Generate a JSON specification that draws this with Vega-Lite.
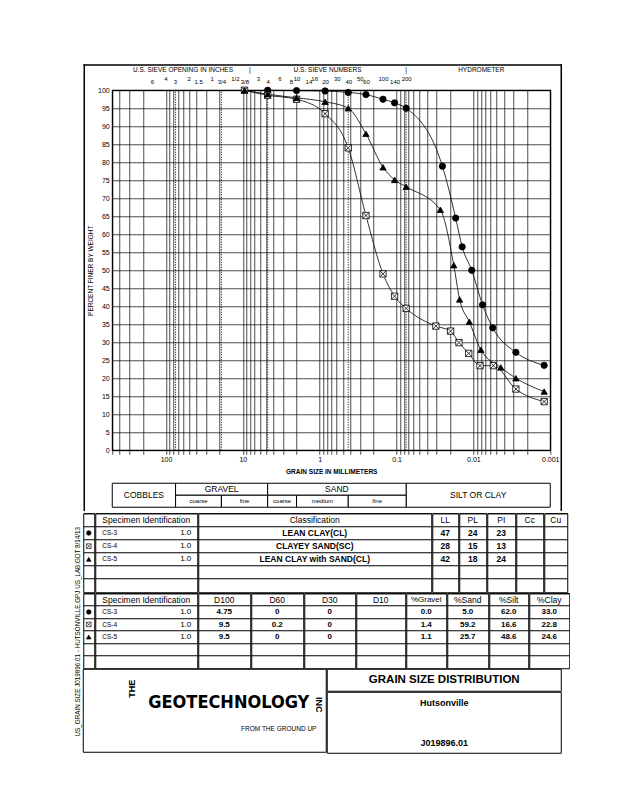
{
"$schema": "https://vega.github.io/schema/vega-lite/v6.json",
"padding": {"left": 73.25, "top": 63.25, "right": 0, "bottom": 0},
"background": "white",
"config": {
  "font": "Liberation Sans",
  "view": {"stroke": "black", "strokeWidth": 1},
  "axisBand": {"grid": true, "gridColor": "black", "gridOpacity": 1, "gridWidth": 1, "labels": false, "ticks": false, "domain": false, "bandPosition": 0}
},
"datasets": {
  "pts": [
    {"sp":"CS-3","d":4.75,"pct":100},{"sp":"CS-3","d":2.0,"pct":99.9},{"sp":"CS-3","d":0.85,"pct":99.8},{"sp":"CS-3","d":0.425,"pct":99.4},{"sp":"CS-3","d":0.25,"pct":98.8},{"sp":"CS-3","d":0.15,"pct":97.5},{"sp":"CS-3","d":0.106,"pct":96.5},{"sp":"CS-3","d":0.075,"pct":95.0},{"sp":"CS-3","d":0.0253,"pct":78.9},{"sp":"CS-3","d":0.017,"pct":64.5},{"sp":"CS-3","d":0.014,"pct":56.5},{"sp":"CS-3","d":0.0105,"pct":50.0},{"sp":"CS-3","d":0.0076,"pct":40.4},{"sp":"CS-3","d":0.0056,"pct":34.0},{"sp":"CS-3","d":0.0028,"pct":27.2},{"sp":"CS-3","d":0.0012,"pct":23.6},
    {"sp":"CS-4","d":9.5,"pct":100},{"sp":"CS-4","d":4.75,"pct":98.6},{"sp":"CS-4","d":2.0,"pct":97.5},{"sp":"CS-4","d":0.85,"pct":93.5},{"sp":"CS-4","d":0.425,"pct":84.0},{"sp":"CS-4","d":0.25,"pct":65.2},{"sp":"CS-4","d":0.15,"pct":49.0},{"sp":"CS-4","d":0.106,"pct":42.8},{"sp":"CS-4","d":0.075,"pct":39.4},{"sp":"CS-4","d":0.0308,"pct":34.5},{"sp":"CS-4","d":0.0198,"pct":33.1},{"sp":"CS-4","d":0.0154,"pct":29.9},{"sp":"CS-4","d":0.0115,"pct":26.9},{"sp":"CS-4","d":0.0082,"pct":23.5},{"sp":"CS-4","d":0.0055,"pct":23.5},{"sp":"CS-4","d":0.0028,"pct":17.0},{"sp":"CS-4","d":0.0012,"pct":13.5},
    {"sp":"CS-5","d":9.5,"pct":100},{"sp":"CS-5","d":4.75,"pct":98.9},{"sp":"CS-5","d":2.0,"pct":97.9},{"sp":"CS-5","d":0.85,"pct":96.8},{"sp":"CS-5","d":0.425,"pct":95.0},{"sp":"CS-5","d":0.25,"pct":87.9},{"sp":"CS-5","d":0.15,"pct":78.6},{"sp":"CS-5","d":0.106,"pct":75.1},{"sp":"CS-5","d":0.075,"pct":73.2},{"sp":"CS-5","d":0.0269,"pct":66.8},{"sp":"CS-5","d":0.018,"pct":51.4},{"sp":"CS-5","d":0.0151,"pct":41.9},{"sp":"CS-5","d":0.0113,"pct":35.7},{"sp":"CS-5","d":0.008,"pct":27.9},{"sp":"CS-5","d":0.0044,"pct":23.0},{"sp":"CS-5","d":0.0028,"pct":20.0},{"sp":"CS-5","d":0.0012,"pct":16.3}
  ],
  "spec": [
    {"sp":"CS-3","depth":1.0,"cls":"LEAN CLAY(CL)","LL":47,"PL":24,"PI":23,"D100":4.75,"D60":0,"D30":0,"gravel":0.0,"sand":5.0,"silt":62.0,"clay":33.0},
    {"sp":"CS-4","depth":1.0,"cls":"CLAYEY SAND(SC)","LL":28,"PL":15,"PI":13,"D100":9.5,"D60":0.2,"D30":0,"gravel":1.4,"sand":59.2,"silt":16.6,"clay":22.8},
    {"sp":"CS-5","depth":1.0,"cls":"LEAN CLAY with SAND(CL)","LL":42,"PL":18,"PI":24,"D100":9.5,"D60":0,"D30":0,"gravel":1.1,"sand":25.7,"silt":48.6,"clay":24.6}
  ],
  "sieveBounds": [{"mm":75},{"mm":19},{"mm":4.75},{"mm":0.425},{"mm":0.075}],
  "headers": [{"mm":60,"label":"U.S. SIEVE OPENING IN INCHES"},{"mm":8.1,"label":"|"},{"mm":0.79,"label":"U.S. SIEVE NUMBERS"},{"mm":0.075,"label":"|"},{"mm":0.0079,"label":"HYDROMETER"}],
  "classes": [
    {"label":"COBBLES","from":500,"to":75,"tier":"whole"},
    {"label":"GRAVEL","from":75,"to":4.75,"tier":"main"},
    {"label":"SAND","from":4.75,"to":0.075,"tier":"main"},
    {"label":"SILT OR CLAY","from":0.075,"to":0.001,"tier":"whole"},
    {"label":"coarse","from":75,"to":19,"tier":"sub"},
    {"label":"fine","from":19,"to":4.75,"tier":"sub"},
    {"label":"coarse","from":4.75,"to":2.0,"tier":"sub"},
    {"label":"medium","from":2.0,"to":0.425,"tier":"sub"},
    {"label":"fine","from":0.425,"to":0.075,"tier":"sub"}
  ]
},
"spacing": 0,
"vconcat": [
 {"spacing": 0, "hconcat": [
  {"width": 9, "height": 10, "data": {"values": [{}]}, "mark": {"type": "text", "text": ""}, "encoding": {}, "view": {"stroke": null}},
  {"width": 438, "height": 360,
   "data": {"name": "pts"},
   "view": {"stroke": "black", "strokeWidth": 1.3},
   "resolve": {"axis": {"x": "independent", "y": "independent"}},
   "layer": [
    {"data": {"values": [{}]}, "mark": {"type": "rule", "stroke": "black", "strokeWidth": 1.5, "strokeCap": "square", "clip": false},
     "encoding": {"x": {"datum": 1157, "type": "quantitative", "scale": {"type": "log", "domain": [0.001, 500], "reverse": true, "nice": false}, "axis": null},
                  "y": {"datum": 107, "type": "quantitative", "scale": {"domain": [0, 100], "nice": false, "zero": false}, "axis": null},
                  "y2": {"datum": -16.7}}},
    {"data": {"values": [{}]}, "mark": {"type": "rule", "stroke": "black", "strokeWidth": 1.5, "strokeCap": "square", "clip": false},
     "encoding": {"x": {"datum": 1157, "type": "quantitative", "axis": null}, "x2": {"datum": 0.000719},
                  "y": {"datum": 107, "type": "quantitative", "axis": null}}},
    {"data": {"values": [{}]}, "mark": {"type": "rule", "stroke": "black", "strokeWidth": 1.5, "strokeCap": "square", "clip": false},
     "encoding": {"x": {"datum": 0.000719, "type": "quantitative", "axis": null},
                  "y": {"datum": 107, "type": "quantitative", "axis": null}, "y2": {"datum": -16.7}}},
    {"data": {"name": "sieveBounds"}, "mark": {"type": "rule", "stroke": "black", "strokeWidth": 1, "strokeDash": [1, 1.5]},
     "encoding": {"x": {"field": "mm", "type": "quantitative",
                        "axis": {"orient": "top", "values": [152.4,76.2,38.1,19.05,9.525,4.75,2.36,1.4,0.85,0.425,0.25,0.106],
                                 "labelExpr": "['6','3','1.5','3/4','3/8','4','8','14','20','40','60','140'][indexof([152.4,76.2,38.1,19.05,9.525,4.75,2.36,1.4,0.85,0.425,0.25,0.106], datum.value)]",
                                 "grid": false, "ticks": false, "domain": false, "labelFontSize": 6, "labelPadding": 6, "labelOverlap": false, "labelFlush": false, "labelBound": false, "labelColor": "black", "title": null}},
                  "y": {"datum": 0, "type": "quantitative", "axis": null}, "y2": {"datum": 100}}},
    {"mark": {"type": "line", "interpolate": "monotone", "stroke": "black", "strokeWidth": 0.8},
     "encoding": {"x": {"field": "d", "type": "quantitative",
                        "axis": {"orient": "top", "values": [101.6,50.8,25.4,12.7,6.35,3.35,2,1.18,0.6,0.3,0.15,0.075],
                                 "labelExpr": "['4','2','1','1/2','3','6','10','16','30','50','100','200'][indexof([101.6,50.8,25.4,12.7,6.35,3.35,2,1.18,0.6,0.3,0.15,0.075], datum.value)]",
                                 "grid": false, "ticks": false, "domain": false, "labelFontSize": 6, "labelPadding": 9, "labelOverlap": false, "labelFlush": false, "labelBound": false, "labelColor": "black", "title": null}},
                  "y": {"field": "pct", "type": "quantitative", "axis": null},
                  "detail": {"field": "sp"}}},
    {"mark": {"type": "point", "filled": true, "opacity": 1, "stroke": "black", "strokeWidth": 0.8, "size": 40},
     "encoding": {"x": {"field": "d", "type": "quantitative",
                        "axis": {"orient": "bottom", "values": [500,400,300,200,100,90,80,70,60,50,40,30,20,10,9,8,7,6,5,4,3,2,1,0.9,0.8,0.7,0.6,0.5,0.4,0.3,0.2,0.1,0.09,0.08,0.07,0.06,0.05,0.04,0.03,0.02,0.01,0.009,0.008,0.007,0.006,0.005,0.004,0.003,0.002,0.001],
                                 "labelExpr": "datum.value == 100 ? '100' : datum.value == 10 ? '10' : datum.value == 1 ? '1' : datum.value == 0.1 ? '0.1' : datum.value == 0.01 ? '0.01' : datum.value == 0.001 ? '0.001' : ''",
                                 "grid": true, "gridColor": "black", "gridOpacity": 1, "gridWidth": 0.7,
                                 "ticks": true, "tickSize": 4, "tickColor": "black", "tickWidth": 0.7, "domain": false,
                                 "labelFontSize": 7, "labelPadding": 1, "labelOverlap": false, "labelFlush": false, "labelColor": "black",
                                 "title": "GRAIN SIZE IN MILLIMETERS", "titleFontSize": 6.5, "titleFontWeight": "bold", "titlePadding": 6, "titleColor": "black"}},
                  "y": {"field": "pct", "type": "quantitative",
                        "axis": {"values": [0,5,10,15,20,25,30,35,40,45,50,55,60,65,70,75,80,85,90,95,100],
                                 "grid": true, "gridColor": "black", "gridOpacity": 1, "gridWidth": 0.7,
                                 "ticks": false, "domain": false, "labelFontSize": 7, "labelPadding": 3, "labelColor": "black",
                                 "title": "PERCENT FINER BY WEIGHT", "titleFontSize": 6.5, "titleFontWeight": "normal", "titlePadding": 4, "titleColor": "black"}},
                  "shape": {"field": "sp", "type": "nominal", "scale": {"domain": ["CS-3","CS-4","CS-5"], "range": ["circle", "M-1,-1H1V1H-1Z M-1,-1L1,1 M1,-1L-1,1", "triangle-up"]}, "legend": null},
                  "fill": {"field": "sp", "type": "nominal", "scale": {"domain": ["CS-3","CS-4","CS-5"], "range": ["black","white","black"]}, "legend": null}}},
    {"data": {"name": "headers"}, "mark": {"type": "text", "fontSize": 6.5, "clip": false},
     "encoding": {"x": {"field": "mm", "type": "quantitative", "axis": null},
                  "y": {"datum": 105.6, "type": "quantitative", "axis": null},
                  "text": {"field": "label"}}},
    {"data": {"name": "classes"}, "transform": [{"filter": "datum.tier == 'whole'"}],
     "mark": {"type": "rect", "fill": "white", "stroke": "black", "strokeWidth": 1, "clip": false},
     "encoding": {"x": {"field": "from", "type": "quantitative", "axis": null}, "x2": {"field": "to"},
                  "y": {"datum": -9.17, "type": "quantitative", "axis": null}, "y2": {"datum": -15.83}}},
    {"data": {"name": "classes"}, "transform": [{"filter": "datum.tier == 'main'"}],
     "mark": {"type": "rect", "fill": "white", "stroke": "black", "strokeWidth": 1, "clip": false},
     "encoding": {"x": {"field": "from", "type": "quantitative", "axis": null}, "x2": {"field": "to"},
                  "y": {"datum": -9.17, "type": "quantitative", "axis": null}, "y2": {"datum": -12.5}}},
    {"data": {"name": "classes"}, "transform": [{"filter": "datum.tier == 'sub'"}],
     "mark": {"type": "rect", "fill": "white", "stroke": "black", "strokeWidth": 1, "clip": false},
     "encoding": {"x": {"field": "from", "type": "quantitative", "axis": null}, "x2": {"field": "to"},
                  "y": {"datum": -12.5, "type": "quantitative", "axis": null}, "y2": {"datum": -15.83}}},
    {"data": {"name": "classes"}, "transform": [{"filter": "datum.tier == 'whole'"}, {"calculate": "sqrt(datum.from * datum.to)", "as": "mid"}],
     "mark": {"type": "text", "fontSize": 8.5, "clip": false},
     "encoding": {"x": {"field": "mid", "type": "quantitative", "axis": null},
                  "y": {"datum": -12.5, "type": "quantitative", "axis": null}, "text": {"field": "label"}}},
    {"data": {"name": "classes"}, "transform": [{"filter": "datum.tier == 'main'"}, {"calculate": "sqrt(datum.from * datum.to)", "as": "mid"}],
     "mark": {"type": "text", "fontSize": 8.5, "clip": false},
     "encoding": {"x": {"field": "mid", "type": "quantitative", "axis": null},
                  "y": {"datum": -10.85, "type": "quantitative", "axis": null}, "text": {"field": "label"}}},
    {"data": {"name": "classes"}, "transform": [{"filter": "datum.tier == 'sub'"}, {"calculate": "sqrt(datum.from * datum.to)", "as": "mid"}],
     "mark": {"type": "text", "fontSize": 6, "clip": false},
     "encoding": {"x": {"field": "mid", "type": "quantitative", "axis": null},
                  "y": {"datum": -14.2, "type": "quantitative", "axis": null}, "text": {"field": "label"}}}
   ]}
 ]},
 {"spacing": 0, "hconcat": [
  {"width": 9, "height": 237, "data": {"values": [{}]}, "view": {"stroke": null},
   "mark": {"type": "text", "text": "US_GRAIN SIZE  J019896.01 - HUTSONVILLE.GPJ  US_LAB.GDT  8/14/13", "fontSize": 6.3, "angle": 270}, "encoding": {}},
  {"spacing": -1, "vconcat": [
   {"spacing": -1, "hconcat": [
    {"width": 11, "height": 79, "data": {"name": "spec"}, "mark": {"type": "point", "filled": true, "opacity": 1, "stroke": "black", "strokeWidth": 0.6, "size": 22},
     "encoding": {"y": {"field": "sp", "type": "nominal", "scale": {"type": "band", "domain": ["hdr","CS-3","CS-4","CS-5","b1","b2"], "paddingInner": 0, "paddingOuter": 0}, "axis": {"title": null}},
                  "shape": {"field": "sp", "type": "nominal", "scale": {"domain": ["CS-3","CS-4","CS-5"], "range": ["circle", "M-1,-1H1V1H-1Z M-1,-1L1,1 M1,-1L-1,1", "triangle-up"]}, "legend": null},
                  "fill": {"field": "sp", "type": "nominal", "scale": {"domain": ["CS-3","CS-4","CS-5"], "range": ["black","white","black"]}, "legend": null}}},
    {"width": 102, "height": 79, "layer": [
      {"data": {"values": [{}]}, "mark": {"type": "text", "fontSize": 8.5, "text": "Specimen Identification"},
       "encoding": {"y": {"datum": "hdr", "type": "nominal", "scale": {"type": "band", "domain": ["hdr","CS-3","CS-4","CS-5","b1","b2"], "paddingInner": 0, "paddingOuter": 0}, "axis": {"title": null}}}},
      {"data": {"name": "spec"}, "mark": {"type": "text", "fontSize": 6.5, "align": "left", "dx": -44},
       "encoding": {"y": {"field": "sp", "type": "nominal", "axis": {"title": null}}, "text": {"field": "sp"}}},
      {"data": {"name": "spec"}, "mark": {"type": "text", "fontSize": 8, "align": "right", "dx": 45},
       "encoding": {"y": {"field": "sp", "type": "nominal", "axis": {"title": null}}, "text": {"field": "depth", "type": "quantitative", "format": ".1f"}}}
    ]},
    {"width": 233, "height": 79, "layer": [
      {"data": {"values": [{}]}, "mark": {"type": "text", "fontSize": 8.5, "text": "Classification"},
       "encoding": {"y": {"datum": "hdr", "type": "nominal", "scale": {"type": "band", "domain": ["hdr","CS-3","CS-4","CS-5","b1","b2"], "paddingInner": 0, "paddingOuter": 0}, "axis": {"title": null}}}},
      {"data": {"name": "spec"}, "mark": {"type": "text", "fontSize": 8.5, "fontWeight": "bold"},
       "encoding": {"y": {"field": "sp", "type": "nominal", "axis": {"title": null}}, "text": {"field": "cls"}}}
    ]},
    {"width": 26, "height": 79, "layer": [
      {"data": {"values": [{}]}, "mark": {"type": "text", "fontSize": 8.5, "text": "LL"},
       "encoding": {"y": {"datum": "hdr", "type": "nominal", "scale": {"type": "band", "domain": ["hdr","CS-3","CS-4","CS-5","b1","b2"], "paddingInner": 0, "paddingOuter": 0}, "axis": {"title": null}}}},
      {"data": {"name": "spec"}, "mark": {"type": "text", "fontSize": 8.5, "fontWeight": "bold"},
       "encoding": {"y": {"field": "sp", "type": "nominal", "axis": {"title": null}}, "text": {"field": "LL", "type": "quantitative"}}}
    ]},
    {"width": 27, "height": 79, "layer": [
      {"data": {"values": [{}]}, "mark": {"type": "text", "fontSize": 8.5, "text": "PL"},
       "encoding": {"y": {"datum": "hdr", "type": "nominal", "scale": {"type": "band", "domain": ["hdr","CS-3","CS-4","CS-5","b1","b2"], "paddingInner": 0, "paddingOuter": 0}, "axis": {"title": null}}}},
      {"data": {"name": "spec"}, "mark": {"type": "text", "fontSize": 8.5, "fontWeight": "bold"},
       "encoding": {"y": {"field": "sp", "type": "nominal", "axis": {"title": null}}, "text": {"field": "PL", "type": "quantitative"}}}
    ]},
    {"width": 28, "height": 79, "layer": [
      {"data": {"values": [{}]}, "mark": {"type": "text", "fontSize": 8.5, "text": "PI"},
       "encoding": {"y": {"datum": "hdr", "type": "nominal", "scale": {"type": "band", "domain": ["hdr","CS-3","CS-4","CS-5","b1","b2"], "paddingInner": 0, "paddingOuter": 0}, "axis": {"title": null}}}},
      {"data": {"name": "spec"}, "mark": {"type": "text", "fontSize": 8.5, "fontWeight": "bold"},
       "encoding": {"y": {"field": "sp", "type": "nominal", "axis": {"title": null}}, "text": {"field": "PI", "type": "quantitative"}}}
    ]},
    {"width": 27, "height": 79, "data": {"values": [{}]}, "mark": {"type": "text", "fontSize": 8.5, "text": "Cc"},
     "encoding": {"y": {"datum": "hdr", "type": "nominal", "scale": {"type": "band", "domain": ["hdr","CS-3","CS-4","CS-5","b1","b2"], "paddingInner": 0, "paddingOuter": 0}, "axis": {"title": null}}}},
    {"width": 23, "height": 79, "data": {"values": [{}]}, "mark": {"type": "text", "fontSize": 8.5, "text": "Cu"},
     "encoding": {"y": {"datum": "hdr", "type": "nominal", "scale": {"type": "band", "domain": ["hdr","CS-3","CS-4","CS-5","b1","b2"], "paddingInner": 0, "paddingOuter": 0}, "axis": {"title": null}}}}
   ]},
   {"spacing": -1, "hconcat": [
    {"width": 11, "height": 75, "data": {"name": "spec"}, "mark": {"type": "point", "filled": true, "opacity": 1, "stroke": "black", "strokeWidth": 0.6, "size": 22},
     "encoding": {"y": {"field": "sp", "type": "nominal", "scale": {"type": "band", "domain": ["hdr","CS-3","CS-4","CS-5","b1","b2"], "paddingInner": 0, "paddingOuter": 0}, "axis": {"title": null}},
                  "shape": {"field": "sp", "type": "nominal", "scale": {"domain": ["CS-3","CS-4","CS-5"], "range": ["circle", "M-1,-1H1V1H-1Z M-1,-1L1,1 M1,-1L-1,1", "triangle-up"]}, "legend": null},
                  "fill": {"field": "sp", "type": "nominal", "scale": {"domain": ["CS-3","CS-4","CS-5"], "range": ["black","white","black"]}, "legend": null}}},
    {"width": 102, "height": 75, "layer": [
      {"data": {"values": [{}]}, "mark": {"type": "text", "fontSize": 8.5, "text": "Specimen Identification"},
       "encoding": {"y": {"datum": "hdr", "type": "nominal", "scale": {"type": "band", "domain": ["hdr","CS-3","CS-4","CS-5","b1","b2"], "paddingInner": 0, "paddingOuter": 0}, "axis": {"title": null}}}},
      {"data": {"name": "spec"}, "mark": {"type": "text", "fontSize": 6.5, "align": "left", "dx": -44},
       "encoding": {"y": {"field": "sp", "type": "nominal", "axis": {"title": null}}, "text": {"field": "sp"}}},
      {"data": {"name": "spec"}, "mark": {"type": "text", "fontSize": 8, "align": "right", "dx": 45},
       "encoding": {"y": {"field": "sp", "type": "nominal", "axis": {"title": null}}, "text": {"field": "depth", "type": "quantitative", "format": ".1f"}}}
    ]},
    {"width": 52, "height": 75, "layer": [
      {"data": {"values": [{}]}, "mark": {"type": "text", "fontSize": 8.5, "text": "D100"},
       "encoding": {"y": {"datum": "hdr", "type": "nominal", "scale": {"type": "band", "domain": ["hdr","CS-3","CS-4","CS-5","b1","b2"], "paddingInner": 0, "paddingOuter": 0}, "axis": {"title": null}}}},
      {"data": {"name": "spec"}, "mark": {"type": "text", "fontSize": 8, "fontWeight": "bold"},
       "encoding": {"y": {"field": "sp", "type": "nominal", "axis": {"title": null}}, "text": {"field": "D100", "type": "quantitative"}}}
    ]},
    {"width": 52, "height": 75, "layer": [
      {"data": {"values": [{}]}, "mark": {"type": "text", "fontSize": 8.5, "text": "D60"},
       "encoding": {"y": {"datum": "hdr", "type": "nominal", "scale": {"type": "band", "domain": ["hdr","CS-3","CS-4","CS-5","b1","b2"], "paddingInner": 0, "paddingOuter": 0}, "axis": {"title": null}}}},
      {"data": {"name": "spec"}, "mark": {"type": "text", "fontSize": 8, "fontWeight": "bold"},
       "encoding": {"y": {"field": "sp", "type": "nominal", "axis": {"title": null}}, "text": {"field": "D60", "type": "quantitative"}}}
    ]},
    {"width": 51, "height": 75, "layer": [
      {"data": {"values": [{}]}, "mark": {"type": "text", "fontSize": 8.5, "text": "D30"},
       "encoding": {"y": {"datum": "hdr", "type": "nominal", "scale": {"type": "band", "domain": ["hdr","CS-3","CS-4","CS-5","b1","b2"], "paddingInner": 0, "paddingOuter": 0}, "axis": {"title": null}}}},
      {"data": {"name": "spec"}, "mark": {"type": "text", "fontSize": 8, "fontWeight": "bold"},
       "encoding": {"y": {"field": "sp", "type": "nominal", "axis": {"title": null}}, "text": {"field": "D30", "type": "quantitative"}}}
    ]},
    {"width": 49, "height": 75, "data": {"values": [{}]}, "mark": {"type": "text", "fontSize": 8.5, "text": "D10"},
     "encoding": {"y": {"datum": "hdr", "type": "nominal", "scale": {"type": "band", "domain": ["hdr","CS-3","CS-4","CS-5","b1","b2"], "paddingInner": 0, "paddingOuter": 0}, "axis": {"title": null}}}},
    {"width": 40, "height": 75, "layer": [
      {"data": {"values": [{}]}, "mark": {"type": "text", "fontSize": 8, "text": "%Gravel"},
       "encoding": {"y": {"datum": "hdr", "type": "nominal", "scale": {"type": "band", "domain": ["hdr","CS-3","CS-4","CS-5","b1","b2"], "paddingInner": 0, "paddingOuter": 0}, "axis": {"title": null}}}},
      {"data": {"name": "spec"}, "mark": {"type": "text", "fontSize": 8, "fontWeight": "bold"},
       "encoding": {"y": {"field": "sp", "type": "nominal", "axis": {"title": null}}, "text": {"field": "gravel", "type": "quantitative", "format": ".1f"}}}
    ]},
    {"width": 41, "height": 75, "layer": [
      {"data": {"values": [{}]}, "mark": {"type": "text", "fontSize": 8.5, "text": "%Sand"},
       "encoding": {"y": {"datum": "hdr", "type": "nominal", "scale": {"type": "band", "domain": ["hdr","CS-3","CS-4","CS-5","b1","b2"], "paddingInner": 0, "paddingOuter": 0}, "axis": {"title": null}}}},
      {"data": {"name": "spec"}, "mark": {"type": "text", "fontSize": 8, "fontWeight": "bold"},
       "encoding": {"y": {"field": "sp", "type": "nominal", "axis": {"title": null}}, "text": {"field": "sand", "type": "quantitative", "format": ".1f"}}}
    ]},
    {"width": 39, "height": 75, "layer": [
      {"data": {"values": [{}]}, "mark": {"type": "text", "fontSize": 8.5, "text": "%Silt"},
       "encoding": {"y": {"datum": "hdr", "type": "nominal", "scale": {"type": "band", "domain": ["hdr","CS-3","CS-4","CS-5","b1","b2"], "paddingInner": 0, "paddingOuter": 0}, "axis": {"title": null}}}},
      {"data": {"name": "spec"}, "mark": {"type": "text", "fontSize": 8, "fontWeight": "bold"},
       "encoding": {"y": {"field": "sp", "type": "nominal", "axis": {"title": null}}, "text": {"field": "silt", "type": "quantitative", "format": ".1f"}}}
    ]},
    {"width": 40, "height": 75, "layer": [
      {"data": {"values": [{}]}, "mark": {"type": "text", "fontSize": 8.5, "text": "%Clay"},
       "encoding": {"y": {"datum": "hdr", "type": "nominal", "scale": {"type": "band", "domain": ["hdr","CS-3","CS-4","CS-5","b1","b2"], "paddingInner": 0, "paddingOuter": 0}, "axis": {"title": null}}}},
      {"data": {"name": "spec"}, "mark": {"type": "text", "fontSize": 8, "fontWeight": "bold"},
       "encoding": {"y": {"field": "sp", "type": "nominal", "axis": {"title": null}}, "text": {"field": "clay", "type": "quantitative", "format": ".1f"}}}
    ]}
   ]},
   {"spacing": -1, "hconcat": [
    {"width": 243, "height": 83, "data": {"values": [{}]}, "layer": [
      {"mark": {"type": "rect", "fill": "white", "stroke": "black", "strokeWidth": 1}, "encoding": {}},
      {"mark": {"type": "text", "text": "GEOTECHNOLOGY", "font": "Liberation Sans Narrow, DejaVu Sans Condensed, sans-serif", "fontWeight": "bold", "fontSize": 18, "dx": 24, "dy": -8}, "encoding": {}},
      {"mark": {"type": "text", "text": "INC", "fontWeight": "bold", "fontSize": 9, "angle": 90, "dx": -6, "dy": -114}, "encoding": {}},
      {"mark": {"type": "text", "text": "FROM THE GROUND UP", "fontSize": 6.5, "dx": 74, "dy": 18}, "encoding": {}},
      {"mark": {"type": "text", "text": "THE", "fontWeight": "bold", "fontSize": 9, "angle": 270, "dx": 22, "dy": -73}, "encoding": {}}
    ]},
    {"spacing": -1, "vconcat": [
      {"width": 234, "height": 22, "data": {"values": [{}]}, "layer": [
        {"mark": {"type": "rect", "fill": "white", "stroke": "black", "strokeWidth": 1}, "encoding": {}},
        {"mark": {"type": "text", "text": "GRAIN SIZE DISTRIBUTION", "fontSize": 11.5, "fontWeight": "bold"}, "encoding": {}}
      ]},
      {"width": 234, "height": 61, "data": {"values": [{}]}, "layer": [
        {"mark": {"type": "rect", "fill": "white", "stroke": "black", "strokeWidth": 1}, "encoding": {}},
        {"mark": {"type": "text", "text": "Hutsonville", "fontSize": 9, "fontWeight": "bold", "dy": -20}, "encoding": {}},
        {"mark": {"type": "text", "text": "J019896.01", "fontSize": 9, "fontWeight": "bold", "dy": 20}, "encoding": {}}
      ]}
    ]}
   ]}
  ]}
 ]}
]
}
